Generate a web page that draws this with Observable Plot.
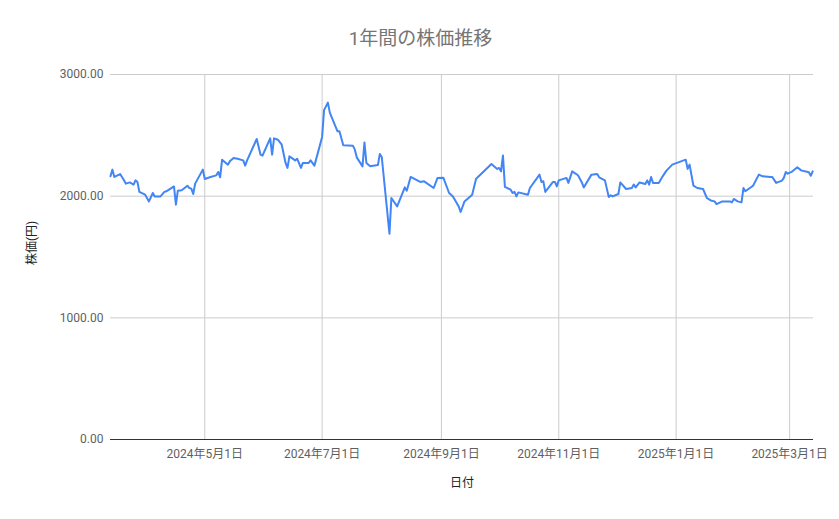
<!DOCTYPE html>
<html><head><meta charset="utf-8">
<script src="https://cdn.jsdelivr.net/npm/d3@7"></script>
<script src="https://cdn.jsdelivr.net/npm/@observablehq/plot@0.6"></script>
<style>
html,body{margin:0;padding:0;background:#fff;}
body{width:839px;height:519px;overflow:hidden;font-family:Roboto,"Noto Sans CJK JP",sans-serif;}
#title{height:60px;box-sizing:border-box;padding-top:28px;text-align:center;font-size:19px;line-height:22px;color:#757575;padding-left:2px;}
#chart svg{display:block;}
</style></head><body>
<div id="title">1年間の株価推移</div>
<div id="chart"></div>
<script>
const dates = [
"2024-03-13","2024-03-14","2024-03-15","2024-03-18","2024-03-20","2024-03-21","2024-03-23","2024-03-25","2024-03-26","2024-03-27","2024-03-28","2024-03-31","2024-04-02","2024-04-04","2024-04-05","2024-04-08","2024-04-10","2024-04-11","2024-04-15","2024-04-16","2024-04-17","2024-04-19","2024-04-22","2024-04-23","2024-04-24","2024-04-25","2024-04-26","2024-04-30",
"2024-05-01","2024-05-04","2024-05-07","2024-05-08","2024-05-09","2024-05-10","2024-05-13","2024-05-14","2024-05-16","2024-05-18","2024-05-21","2024-05-22","2024-05-23","2024-05-28","2024-05-30","2024-05-31",
"2024-06-04","2024-06-05","2024-06-06","2024-06-08","2024-06-10","2024-06-12","2024-06-13","2024-06-14","2024-06-17","2024-06-18","2024-06-20","2024-06-21","2024-06-24","2024-06-25","2024-06-27",
"2024-07-01","2024-07-02","2024-07-04","2024-07-05","2024-07-09","2024-07-10","2024-07-12","2024-07-17","2024-07-18","2024-07-19","2024-07-22","2024-07-23","2024-07-24","2024-07-26","2024-07-30","2024-07-31",
"2024-08-01","2024-08-05","2024-08-06","2024-08-09","2024-08-13","2024-08-14","2024-08-16","2024-08-21","2024-08-23","2024-08-28","2024-08-30",
"2024-09-02","2024-09-05","2024-09-07","2024-09-10","2024-09-11","2024-09-13","2024-09-16","2024-09-17","2024-09-19","2024-09-20","2024-09-27","2024-09-30",
"2024-10-01","2024-10-02","2024-10-03","2024-10-04","2024-10-07","2024-10-08","2024-10-09","2024-10-10","2024-10-11","2024-10-16","2024-10-17","2024-10-22","2024-10-23","2024-10-24","2024-10-25","2024-10-29","2024-10-30","2024-10-31",
"2024-11-01","2024-11-05","2024-11-06","2024-11-08","2024-11-11","2024-11-13","2024-11-14","2024-11-18","2024-11-21","2024-11-22","2024-11-25","2024-11-27","2024-11-28","2024-11-29",
"2024-12-02","2024-12-03","2024-12-06","2024-12-09","2024-12-10","2024-12-11","2024-12-13","2024-12-16","2024-12-17","2024-12-18","2024-12-19","2024-12-20","2024-12-23","2024-12-25","2024-12-27","2024-12-30",
"2025-01-06","2025-01-07","2025-01-08","2025-01-10","2025-01-12","2025-01-15","2025-01-17","2025-01-19","2025-01-21","2025-01-22","2025-01-25","2025-01-29","2025-01-30","2025-01-31",
"2025-02-02","2025-02-04","2025-02-05","2025-02-06","2025-02-10","2025-02-13","2025-02-15","2025-02-19","2025-02-20","2025-02-22","2025-02-25","2025-02-26","2025-02-27","2025-02-28",
"2025-03-02","2025-03-05","2025-03-07","2025-03-11","2025-03-12","2025-03-13"
];
const prices = [
2163,2218,2158,2182,2130,2103,2113,2095,2130,2117,2035,2012,1957,2026,1998,1998,2035,2040,2080,1930,2045,2048,2086,2067,2062,2018,2103,2218,
2141,2158,2171,2199,2155,2300,2259,2286,2314,2308,2294,2251,2294,2470,2341,2333,
2475,2341,2475,2464,2423,2273,2232,2327,2294,2308,2232,2273,2273,2294,2251,
2487,2707,2769,2687,2533,2533,2418,2415,2382,2319,2245,2442,2273,2245,2256,2347,
2322,1692,1985,1916,2072,2045,2158,2117,2122,2067,2150,
2152,2026,1998,1916,1870,1957,1998,2012,2141,2158,2265,2224,
2232,2204,2335,2076,2053,2026,2035,1998,2031,2012,2067,2177,2117,2122,2035,2117,2117,2080,
2130,2150,2109,2204,2172,2113,2072,2177,2182,2155,2130,1993,2007,1998,
2018,2113,2059,2067,2095,2072,2113,2100,2130,2095,2158,2109,2109,2163,2210,2259,
2300,2224,2259,2086,2067,2059,1985,1965,1957,1935,1957,1957,1949,1977,
1957,1949,2067,2040,2086,2177,2163,2158,2158,2109,2128,2150,2199,2185,
2199,2237,2212,2196,2168,2204
];
const xTickDates = ["2024-05-01","2024-07-01","2024-09-01","2024-11-01","2025-01-01","2025-03-01"];
const yTickValues = [0, 1000, 2000, 3000];
const xDomain = ["2024-03-13", "2025-03-13T10:00"];
const yDomain = [0, 3000];
const yLabel = "株価(円)";
const xLabel = "日付";

const data = dates.map((d, i) => ({date: new Date(d), price: prices[i]}));
const xt = xTickDates.map(d => new Date(d));
const fmtDate = d => `${d.getUTCFullYear()}年${d.getUTCMonth() + 1}月${d.getUTCDate()}日`;

const chart = Plot.plot({
  width: 839,
  height: 459,
  marginTop: 14,
  marginBottom: 80,
  marginLeft: 110,
  marginRight: 26,
  style: {fontFamily: 'Roboto, "Noto Sans CJK JP", sans-serif', fontSize: "12px", background: "#fff"},
  x: {type: "utc", domain: xDomain.map(d => new Date(d))},
  y: {domain: yDomain},
  marks: [
    Plot.gridX(xt, {stroke: "#cccccc", strokeOpacity: 1}),
    Plot.gridY(yTickValues.filter(v => v > 0), {stroke: "#cccccc", strokeOpacity: 1}),
    Plot.ruleY([0], {stroke: "#333333", strokeWidth: 1}),
    Plot.axisX(xt, {tickSize: 0, tickPadding: 10, tickFormat: fmtDate, fill: "#5f5f5f", label: null}),
    Plot.axisY(yTickValues, {tickSize: 0, tickPadding: 7, tickFormat: d3.format(".2f"), fill: "#5f5f5f", label: null}),
    Plot.line(data, {x: "date", y: "price", stroke: "#4285f4", strokeWidth: 2, strokeLinejoin: "round"}),
    Plot.text([yLabel], {frameAnchor: "left", rotate: -90, dx: -78, dy: 8, fill: "#222222", fontSize: 12}),
    Plot.text([xLabel], {frameAnchor: "bottom", dy: 47, fill: "#222222", fontSize: 12})
  ]
});
document.getElementById("chart").appendChild(chart);
</script>
</body></html>
